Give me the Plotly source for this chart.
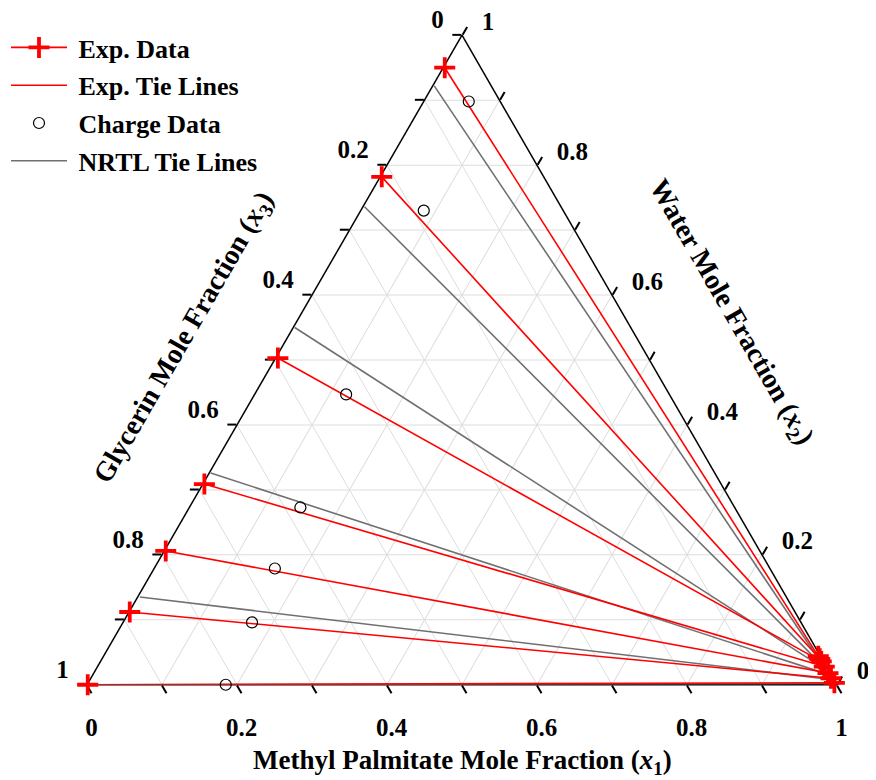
import plotly.graph_objects as go

FONT = "Liberation Serif"
# the page body adds an 8 px margin, so the figure is 8 px smaller than the window
FW, FH = 868, 772
OFF = 8

# ---------------- data (mole fractions) ----------------
# x1 = methyl palmitate, x2 = water, x3 = glycerin
tick_vals = [0.0, 0.1, 0.2, 0.3, 0.4, 0.5, 0.6, 0.7, 0.8, 0.9, 1.0]
# each edge of the original chart is labelled with the complementary fraction
tick_text = ["1", "", "0.8", "", "0.6", "", "0.4", "", "0.2", "", "0"]

# experimental tie lines: glycerin-rich phase (left) and ester-rich phase (right)
exp_glyc_x1 = [0.002, 0.002, 0.003, 0.002, 0.002, 0.001, 0.001]
exp_glyc_x2 = [0.950, 0.782, 0.503, 0.309, 0.206, 0.112, 0.000]
exp_ester_x2 = [0.044, 0.040, 0.036, 0.028, 0.018, 0.010, 0.003]
exp_ester_x3 = [0.003, 0.003, 0.003, 0.003, 0.003, 0.003, 0.002]

# charge (feed) compositions
charge_x1 = [0.060, 0.084, 0.122, 0.148, 0.161, 0.172, 0.185]
charge_x2 = [0.898, 0.730, 0.447, 0.273, 0.179, 0.096, 0.000]

# NRTL tie lines
nrtl_glyc_x1 = [0.002, 0.002, 0.002, 0.002, 0.003, 0.002]
nrtl_glyc_x2 = [0.922, 0.736, 0.550, 0.326, 0.135, 0.000]
nrtl_ester_x2 = [0.032, 0.028, 0.024, 0.016, 0.008, 0.002]
nrtl_ester_x3 = [0.004, 0.004, 0.004, 0.004, 0.004, 0.004]


def left_point(x1, x2):
    return x1, x2, 1 - x1 - x2


def right_point(x2, x3):
    return 1 - x2 - x3, x2, x3


def tie_lines(gx1, gx2, ex2, ex3):
    a, b, c = [], [], []
    for i in range(len(gx1)):
        l1, l2, l3 = left_point(gx1[i], gx2[i])
        r1, r2, r3 = right_point(ex2[i], ex3[i])
        a += [l2, r2, None]
        b += [l3, r3, None]
        c += [l1, r1, None]
    return a, b, c


def sx(x):  # window pixel -> paper fraction
    return (x - OFF) / FW


def sy(y):
    return 1 - (y - OFF) / FH


NB = "\u00a0"
fig = go.Figure()

# NRTL tie lines (drawn first, beneath)
na, nb, nc = tie_lines(nrtl_glyc_x1, nrtl_glyc_x2, nrtl_ester_x2, nrtl_ester_x3)
fig.add_trace(go.Scatterternary(
    a=na, b=nb, c=nc, mode="lines", name=NB + "NRTL Tie Lines",
    line=dict(color="#707070", width=1.6), legendrank=4, legendgroup="g4",
    cliponaxis=False, hoverinfo="skip"))

# experimental tie lines
ea, eb, ec = tie_lines(exp_glyc_x1, exp_glyc_x2, exp_ester_x2, exp_ester_x3)
fig.add_trace(go.Scatterternary(
    a=ea, b=eb, c=ec, mode="lines", name=NB + "Exp. Tie Lines",
    line=dict(color="#ff0000", width=1.6), legendrank=2, legendgroup="g2",
    cliponaxis=False, hoverinfo="skip"))

# charge data
ca = charge_x2
cb = [1 - charge_x1[i] - charge_x2[i] for i in range(len(charge_x1))]
cc = charge_x1
fig.add_trace(go.Scatterternary(
    a=ca, b=cb, c=cc, mode="markers", name=NB + "Charge Data",
    marker=dict(symbol="circle-open", size=11, color="black", line=dict(width=1.2)),
    legendrank=3, legendgroup="g3", cliponaxis=False))

# experimental data points (isolated points; legend shows line + symbol)
pa, pb, pc = [], [], []
for i in range(len(exp_glyc_x1)):
    l1, l2, l3 = left_point(exp_glyc_x1[i], exp_glyc_x2[i])
    r1, r2, r3 = right_point(exp_ester_x2[i], exp_ester_x3[i])
    pa += [l2, None, r2, None]
    pb += [l3, None, r3, None]
    pc += [l1, None, r1, None]
fig.add_trace(go.Scatterternary(
    a=pa, b=pb, c=pc, mode="lines+markers", name=NB + "Exp. Data",
    line=dict(color="#ff0000", width=1.6),
    marker=dict(symbol="cross-thin", size=15, color="#ff0000",
                line=dict(width=3.8, color="#ff0000")),
    legendrank=1, legendgroup="g1", cliponaxis=False))

LABEL_PX = 25


def sized(t):
    return "<span style='font-size:%dpx'>%s</span>" % (LABEL_PX, t)


# left labels are lifted (extra blank line); right labels pushed off the edge;
# bottom labels drawn at 25 px inside a larger slot so they sit lower
left_text = [(sized(t + NB) + "<br>" + NB) if t else "" for t in tick_text]
right_text = [sized(NB + NB + t) if t else "" for t in tick_text]
bottom_text = [sized(t) if t else "" for t in tick_text]


def axis(ticktext, slot_size=LABEL_PX):
    return dict(
        tickmode="array", tickvals=tick_vals, ticktext=ticktext,
        ticks="outside", ticklen=9, tickwidth=1.5, tickcolor="black",
        showline=True, linecolor="black", linewidth=1.5,
        showgrid=True, gridcolor="#dddddd", gridwidth=1,
        tickfont=dict(family=FONT, size=slot_size, color="black", weight="bold"),
        layer="below traces", title=dict(text=""),
    )


title_font = dict(family=FONT, size=27, color="black", weight="bold")
side_title_font = dict(family=FONT, size=28, color="black", weight="bold")

fig.update_layout(
    width=FW, height=FH,
    margin=dict(l=0, r=0, t=0, b=0, autoexpand=False),
    paper_bgcolor="white",
    font=dict(family=FONT, color="black"),
    ternary=dict(
        sum=1, bgcolor="white",
        domain=dict(x=[sx(87), sx(837)], y=[sy(685), sy(35)]),
        aaxis=axis(left_text, 16), baxis=axis(bottom_text, 35),
        caxis=axis(right_text, 12),
    ),
    showlegend=True,
    legend=dict(
        x=sx(6), y=sy(24), xanchor="left", yanchor="top",
        font=dict(family=FONT, size=26, color="black", weight="bold"),
        bgcolor="rgba(0,0,0,0)", borderwidth=0,
        traceorder="grouped", tracegroupgap=1, itemwidth=56,
    ),
    annotations=[
        dict(text="Methyl Palmitate Mole Fraction (<i>x</i><sub>1</sub>)",
             xref="paper", yref="paper", x=sx(462), y=sy(762),
             xanchor="center", yanchor="middle", showarrow=False, font=title_font),
        dict(text="Glycerin Mole Fraction (<i>x</i><sub>3</sub>)",
             xref="paper", yref="paper", x=sx(184), y=sy(338),
             xanchor="center", yanchor="middle", showarrow=False, textangle=-60,
             font=side_title_font),
        dict(text="Water Mole Fraction (<i>x</i><sub>2</sub>)",
             xref="paper", yref="paper", x=sx(731), y=sy(312),
             xanchor="center", yanchor="middle", showarrow=False, textangle=60,
             font=side_title_font),
    ],
)

fig.write_html("out.html")
